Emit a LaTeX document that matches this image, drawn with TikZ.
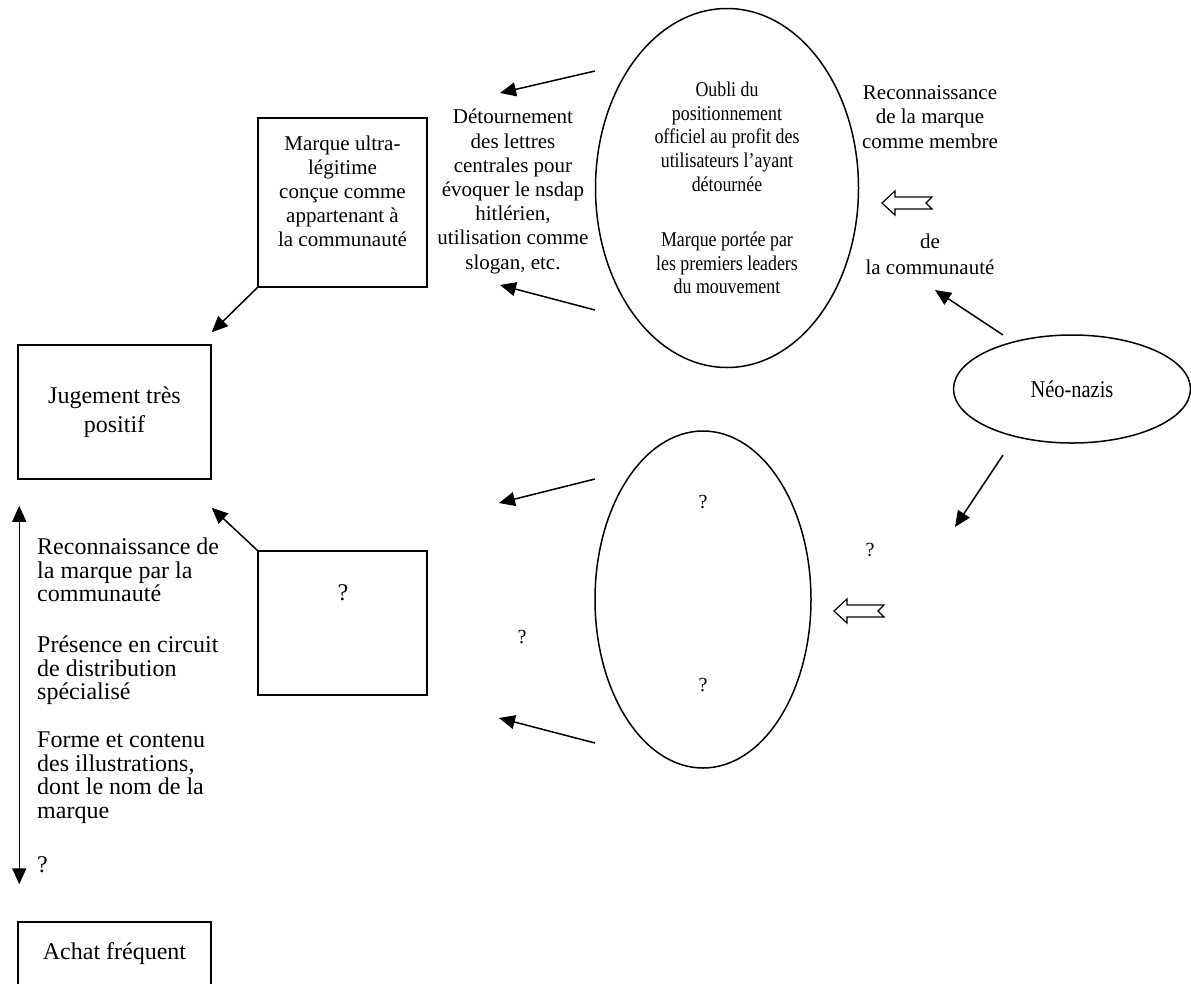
\documentclass[tikz,border=0pt]{standalone}
\usepackage{fontspec}
\setmainfont{Liberation Serif}
\newfontfamily\ovalfont{Liberation Serif}[FakeStretch=0.85]
\usetikzlibrary{arrows.meta,positioning,shapes.geometric}

\tikzset{
  hollow arrow/.pic={
    \draw[line width=1.2pt,fill=white] (0,0) -- (13,-12) -- (13,-6) -- (50,-6)
      -- (44,0) -- (50,6) -- (13,6) -- (13,12) -- cycle;
  }
}

\begin{document}
\begin{tikzpicture}
  [
    x=1pt, y=-1pt,
    box/.style={rectangle,draw,line width=1.5pt,inner sep=0pt},
    oval/.style={ellipse,draw,line width=1.5pt,inner sep=0pt,align=center},
    conn/.style={line width=1.5pt,-{Triangle[length=16pt,width=14pt]}},
    big/.style={font=\fontsize{24}{29}\selectfont,align=center,inner sep=0pt},
    mid/.style={font=\fontsize{21}{24}\selectfont,align=center,inner sep=0pt},
    query/.style={font=\fontsize{20}{24}\selectfont,inner sep=0pt}
  ]
  \useasboundingbox (0,0) rectangle (1191,983);

  % left column
  \node[box,big,minimum width=193pt,minimum height=134pt] (jugement) at (114.5,412) {Jugement très\\positif};
  \node[box,big,minimum width=193pt,minimum height=63pt] (achat) at (114.5,953.5) {Achat fréquent};
  \node[big,font=\fontsize{24}{23.5}\selectfont,align=left,anchor=north west] (criteres) at (37,538)
    {Reconnaissance de\\la marque par la\\communauté\\[27.5pt]Présence en circuit\\de distribution\\spécialisé\\[24.5pt]Forme et contenu\\des illustrations,\\dont le nom de la\\marque\\[30.5pt]?};
  \coordinate (haut) at ([shift={(2pt,-26pt)}]jugement.south west);
  \coordinate (bas) at ([shift={(2pt,37pt)}]achat.north west);
  \draw[line width=1.5pt,{Triangle[length=16pt,width=14pt]}-{Triangle[length=16pt,width=14pt]}] (haut) -- (bas);

  % middle boxes
  \node[box,minimum width=169pt,minimum height=169pt] (marque) at (342.5,202.5) {};
  \node[mid,below=18pt of marque.north] (marque text) {Marque ultra-\\légitime\\conçue comme\\appartenant à\\la communauté};
  \node[box,minimum width=169pt,minimum height=144pt] (inconnu) at (342.5,623) {};
  \node[query,font=\fontsize{24}{24}\selectfont] (inconnu text) at (343,593) {?};
  \draw[conn] (marque.south west) -- ([yshift=12pt]jugement.north east);
  \draw[conn] (inconnu.north west) -- ([yshift=-28pt]jugement.south east);

  \node[mid,font=\fontsize{21}{24.2}\selectfont,anchor=north] (detour) at (513,109)
    {Détournement\\des lettres\\centrales pour\\évoquer le nsdap\\hitlérien,\\utilisation comme\\slogan, etc.};
  \node[query] (gauche) at (522,637) {?};

  % ovals
  \node[oval,minimum width=263pt,minimum height=359pt,font=\ovalfont\fontsize{21}{23.8}\selectfont] (oubli) at (727,188)
    {Oubli du\\positionnement\\officiel au profit des\\utilisateurs l’ayant\\détournée\\[31pt]Marque portée par\\les premiers leaders\\du mouvement};
  \node[oval,minimum width=216pt,minimum height=337pt] (ovale) at (703,599.5) {};
  \node[query] (ovale haut) at (703,502) {?};
  \node[query] (ovale bas) at (703,685) {?};
  \node[oval,minimum width=237pt,minimum height=108pt,font=\ovalfont\fontsize{24}{24}\selectfont] (neo) at (1072,389) {Néo-nazis};

  \coordinate (o1) at (595,71);   \coordinate (d1) at (500,93);
  \coordinate (o2) at (595,310);  \coordinate (d2) at (500,285);
  \coordinate (o3) at (595,479);  \coordinate (d3) at (499,503);
  \coordinate (o4) at (595,743);  \coordinate (d4) at (499,718);
  \draw[conn] (o1) -- (d1);
  \draw[conn] (o2) -- (d2);
  \draw[conn] (o3) -- (d3);
  \draw[conn] (o4) -- (d4);

  % right side
  \node[mid,font=\fontsize{21}{24.5}\selectfont,anchor=north] (reconnu) at (930,85) {Reconnaissance\\de la marque\\comme membre};
  \pic at (882,203) {hollow arrow};
  \node[mid,font=\fontsize{21}{26}\selectfont,anchor=north] (communaute) at (930,234) {de\\la communauté};
  \pic at (834,611) {hollow arrow};
  \node[query] (droite) at (870,550) {?};

  \coordinate (n1) at (1003,335);  \coordinate (c1) at (935,290);
  \coordinate (n2) at (1003,455);  \coordinate (c2) at (955,527);
  \draw[conn] (n1) -- (c1);
  \draw[conn] (n2) -- (c2);
\end{tikzpicture}
\end{document}
